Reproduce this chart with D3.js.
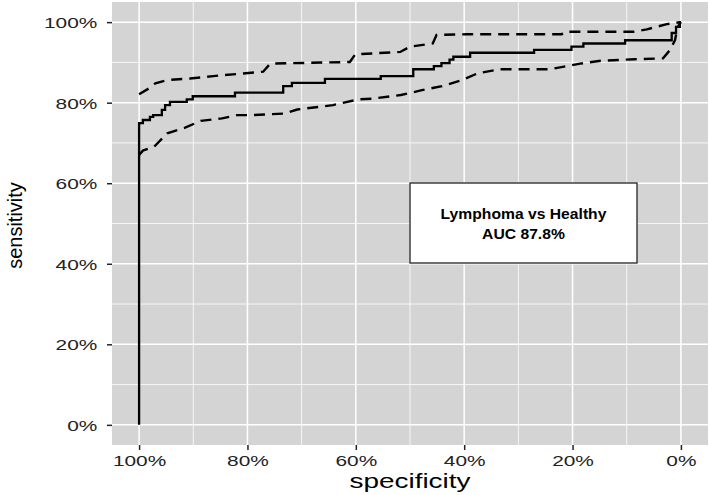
<!DOCTYPE html>
<html>
<head>
<meta charset="utf-8">
<script src="https://cdn.jsdelivr.net/npm/d3@7"></script>
<style>
  html, body { margin: 0; padding: 0; background: #ffffff; }
  svg { display: block; }
</style>
</head>
<body>
<div id="chart"></div>
<script>
// ---- data ----
// ROC curve (step corners): specificity % and sensitivity %
const rocSpecificity = [100,100,99.3,98.0,97.4,95.8,95.2,94.3,91.2,90.1,82.3,73.4,71.8,65.7,55.4,49.4,45.6,44.2,42.7,42.0,38.9,27.1,20.2,18.0,10.3,1.7,0.9,0.2,0];
const rocSensitivity = [0,74.9,75.7,76.5,76.9,78.2,79.4,80.2,80.8,81.6,82.5,84.1,84.9,85.9,86.6,88.3,89.1,89.8,90.7,91.4,92.4,93.1,93.9,94.7,95.5,97.3,98.8,100,100];

// upper confidence band
const upperSpecificity = [100,98.0,97.0,94.9,90.6,86.3,82.1,77.1,75.8,61.1,60.1,51.8,50.0,45.8,45.1,39.5,22.0,21.4,8.8,6.3,2.6,0];
const upperSensitivity = [82.1,83.7,84.8,85.6,86.0,86.6,87.1,87.7,89.7,90.1,92.0,92.6,93.9,94.7,96.8,97.0,97.0,97.6,97.6,98.2,99.5,100];

// lower confidence band
const lowerSpecificity = [100,99.3,97.2,94.8,91.5,88.6,84.7,81.9,79.5,73.1,70.8,64.2,59.6,57.0,51.7,47.8,44.1,40.4,37.5,33.4,24.2,21.8,18.6,14.8,8.5,3.3,2.0,1.1,0.6,0];
const lowerSensitivity = [67.0,68.1,69.1,72.4,73.8,75.5,76.1,76.9,76.9,77.3,78.3,79.4,80.8,81.0,81.9,83.1,84.1,85.6,87.3,88.3,88.3,88.9,89.7,90.4,90.8,91.0,93.1,95.5,98.8,100];

const xTicks = [100, 80, 60, 40, 20, 0];
const xMinor = [90, 70, 50, 30, 10];
const yTicks = [0, 20, 40, 60, 80, 100];
const yMinor = [10, 30, 50, 70, 90];
const xTitle = "specificity";
const yTitle = "sensitivity";
const annotationLines = ["Lymphoma vs Healthy", "AUC 87.8%"];

// ---- layout ----
const W = 709, H = 495;
const panel = { left: 112, right: 708, top: 2, bottom: 445 };
const TXT_SX = 1.39;   // horizontal stretch of the reference text
const FONT = "'Liberation Sans', Arial, Helvetica, sans-serif";

const svg = d3.select("#chart").append("svg")
  .attr("width", W).attr("height", H)
  .attr("font-family", FONT);

const x = d3.scaleLinear().domain([105, -5]).range([panel.left, panel.right]);
const y = d3.scaleLinear().domain([-5, 105]).range([panel.bottom, panel.top]);

// panel background
svg.append("rect")
  .attr("x", panel.left).attr("y", panel.top)
  .attr("width", panel.right - panel.left).attr("height", panel.bottom - panel.top)
  .attr("fill", "#d4d4d4");

const grid = svg.append("g");
// minor grid
grid.selectAll(".vmin").data(xMinor).join("line")
  .attr("x1", d => x(d)).attr("x2", d => x(d))
  .attr("y1", panel.top).attr("y2", panel.bottom)
  .attr("stroke", "#ffffff").attr("stroke-width", 0.8);
grid.selectAll(".hmin").data(yMinor).join("line")
  .attr("y1", d => y(d)).attr("y2", d => y(d))
  .attr("x1", panel.left).attr("x2", panel.right)
  .attr("stroke", "#ffffff").attr("stroke-width", 0.8);
// major grid
grid.selectAll(".vmaj").data(xTicks).join("line")
  .attr("x1", d => x(d)).attr("x2", d => x(d))
  .attr("y1", panel.top).attr("y2", panel.bottom)
  .attr("stroke", "#ffffff").attr("stroke-width", 1.5);
grid.selectAll(".hmaj").data(yTicks).join("line")
  .attr("y1", d => y(d)).attr("y2", d => y(d))
  .attr("x1", panel.left).attr("x2", panel.right)
  .attr("stroke", "#ffffff").attr("stroke-width", 1.5);

// ---- curves ----
const zip = (a, b) => a.map((v, i) => [v, b[i]]);
const lineLinear = d3.line().x(d => x(d[0])).y(d => y(d[1]));
const lineStep = d3.line().x(d => x(d[0])).y(d => y(d[1])).curve(d3.curveStepAfter);

svg.append("path")
  .datum(zip(upperSpecificity, upperSensitivity))
  .attr("d", lineLinear).attr("fill", "none")
  .attr("stroke", "#000").attr("stroke-width", 2.4)
  .attr("stroke-dasharray", "11,7");
svg.append("path")
  .datum(zip(lowerSpecificity, lowerSensitivity))
  .attr("d", lineLinear).attr("fill", "none")
  .attr("stroke", "#000").attr("stroke-width", 2.4)
  .attr("stroke-dasharray", "11,7");
svg.append("path")
  .datum(zip(rocSpecificity, rocSensitivity))
  .attr("d", lineStep).attr("fill", "none")
  .attr("stroke", "#000").attr("stroke-width", 2.3);

// ---- axes ----
const xAxis = svg.append("g")
  .attr("transform", `translate(0,${panel.bottom})`)
  .call(d3.axisBottom(x).tickValues(xTicks).tickFormat(d => d + "%").tickSize(5).tickSizeOuter(0));
xAxis.select(".domain").remove();
xAxis.selectAll(".tick line").attr("stroke", "#222").attr("stroke-width", 1.5);
xAxis.selectAll(".tick text")
  .attr("y", 21).attr("dy", 0)
  .attr("font-size", 15).attr("fill", "#222")
  .attr("font-family", FONT)
  .attr("transform", `scale(${TXT_SX},1)`);

const yAxis = svg.append("g")
  .attr("transform", `translate(${panel.left},0)`)
  .call(d3.axisLeft(y).tickValues(yTicks).tickFormat(d => d + "%").tickSize(5).tickSizeOuter(0));
yAxis.select(".domain").remove();
yAxis.selectAll(".tick line").attr("stroke", "#222").attr("stroke-width", 1.5);
yAxis.selectAll(".tick text")
  .attr("x", -14.7 / TXT_SX).attr("dy", "0.37em")
  .attr("font-size", 15).attr("fill", "#222")
  .attr("font-family", FONT)
  .attr("transform", `scale(${TXT_SX},1)`);

// axis titles
svg.append("g")
  .attr("transform", `translate(${(panel.left + panel.right) / 2},488) scale(1.43,1)`)
  .append("text")
  .attr("text-anchor", "middle")
  .attr("font-size", 19.5).attr("fill", "#000")
  .text(xTitle);

svg.append("g")
  .attr("transform", `translate(22,${(panel.top + panel.bottom) / 2 + 2}) scale(1.05,1) rotate(-90)`)
  .append("text")
  .attr("text-anchor", "middle")
  .attr("font-size", 20).attr("fill", "#000")
  .text(yTitle);

// ---- annotation box ----
const box = { x0: 410, x1: 637, y0: 183, y1: 263 };
svg.append("rect")
  .attr("x", box.x0).attr("y", box.y0)
  .attr("width", box.x1 - box.x0).attr("height", box.y1 - box.y0)
  .attr("fill", "#ffffff").attr("stroke", "#222").attr("stroke-width", 1.3);
const cx = (box.x0 + box.x1) / 2;
annotationLines.forEach((t, i) => {
  svg.append("g")
    .attr("transform", `translate(${cx},${218.5 + i * 20}) scale(1.12,1)`)
    .append("text")
    .attr("text-anchor", "middle")
    .attr("font-size", 14).attr("font-weight", "bold").attr("fill", "#000")
    .text(t);
});
</script>
</body>
</html>
